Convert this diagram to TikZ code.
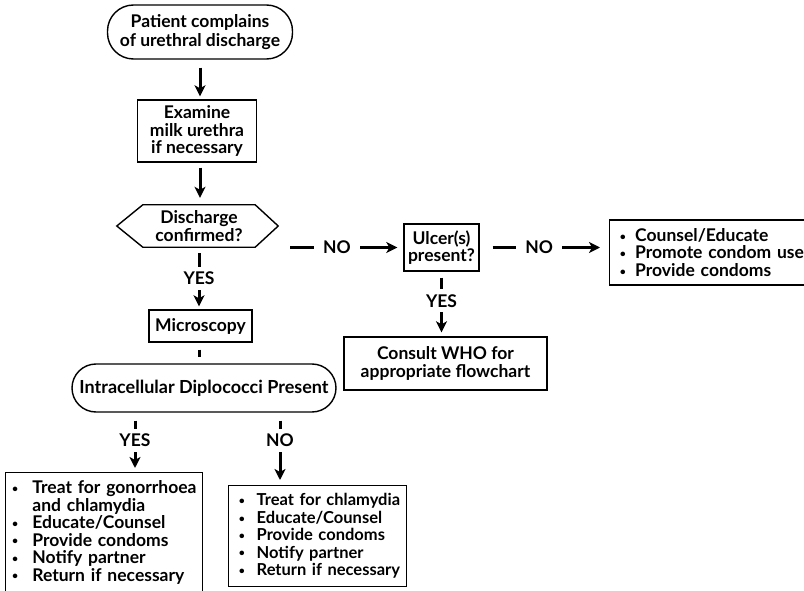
\documentclass[tikz,border=0pt]{standalone}
\usepackage{fontspec}
\usepackage{graphicx}
\setmainfont{Lato}
\usetikzlibrary{arrows.meta}

% bullet entry: small bullet at an offset, fixed-width bullet column, then the text
\newlength{\bulw}
\newlength{\bulo}
\newcommand{\dotmark}{\raisebox{1.3pt}{\fontsize{10.5}{10.5}\selectfont\textbullet}}
\newcommand{\bitem}[1]{\mbox{\makebox[\bulw][l]{\hspace*{\bulo}\dotmark}#1}}
\newcommand{\bcont}[1]{\mbox{\hspace*{\bulw}#1}}

\tikzset{
  txt/.style={font=\bfseries\fontsize{17.5}{17.5}\selectfont},
  box/.style={txt, draw, line width=1.4pt, align=center, inner sep=0pt},
  listbox/.style={txt, draw, line width=1.4pt, align=left, inner xsep=6pt, inner ysep=8pt},
  frame/.style={line width=1.4pt, line join=miter},
  link/.style={line width=3pt, -{Stealth[length=11pt,width=11pt,inset=3pt]}},
  bar/.style={line width=3pt},
  lbl/.style={txt, fill=white, inner xsep=9pt, inner ysep=5pt}
}

\begin{document}
\begin{tikzpicture}[x=1pt,y=-1pt]
\useasboundingbox (0,0) rectangle (804,591);
\clip (0,0) rectangle (804,591);

% main column
\node[box, font=\bfseries\fontsize{17.5}{19}\selectfont, rounded corners=26pt,
      minimum width=185pt, minimum height=54pt] (start) at (200,32)
  {Patient complains\\of urethral discharge};
\node[box, minimum width=119pt, minimum height=62pt] (exam) at (197,131)
  {Examine\\milk urethra\\if necessary};
\node[txt, align=center, inner sep=0pt, minimum width=112pt, minimum height=42pt] (hex) at (199,226)
  {Discharge\\confirmed?};
\draw[frame] (hex.north west) -- (hex.north east) -- ([xshift=23pt]hex.east)
  -- (hex.south east) -- (hex.south west) -- ([xshift=-26pt]hex.west) -- cycle;
\coordinate (hexR) at ([xshift=23pt]hex.east);
\node[box, minimum width=103pt, minimum height=32pt] (micro) at (200.5,326) {Microscopy};
\node[box, font=\bfseries\fontsize{18}{18}\selectfont, rounded corners=24pt,
      minimum width=264pt, minimum height=48pt] (idp) at (204,388)
  {Intracellular Diplococci Present};

% ulcer branch
\node[box, minimum width=75pt, minimum height=47pt] (ulcer) at (441.5,247.5) {Ulcer(s)\\present?};
\node[box, minimum width=203pt, minimum height=53pt] (consult) at (445.5,363.5)
  {Consult WHO for\\appropriate flowchart};
\setlength{\bulw}{19.5pt}\setlength{\bulo}{4.2pt}
\node[listbox, anchor=west, text width=200pt, minimum height=65pt] (counsel) at (609,252.5)
  {\bitem{Counsel/Educate}\\\bitem{Promote condom use}\\\bitem{Provide condoms}};

% treatment boxes
\setlength{\bulw}{20.7pt}\setlength{\bulo}{0.5pt}
\node[listbox, anchor=north west, text width=185pt] (leftbox) at (5,472)
  {\bitem{Treat for gonorrhoea}\\\bcont{and chlamydia}\\\bitem{Educate/Counsel}\\
   \bitem{Provide condoms}\\\bitem{Notify partner}\\\bitem{Return if necessary}\\\rule{0pt}{40pt}};
\setlength{\bulw}{22pt}\setlength{\bulo}{4.2pt}
\node[listbox, font=\bfseries\fontsize{16.5}{17.4}\selectfont, anchor=north west,
      text width=166pt, minimum height=95pt] (rightbox) at (228,485)
  {\bitem{Treat for chlamydia}\\\bitem{Educate/Counsel}\\\bitem{Provide condoms}\\
   \bitem{Notify partner}\\\bitem{Return if necessary}};

\coordinate (yx) at (135,0);
\coordinate (nx) at (280,0);

% connectors
\draw[link, shorten <=8pt, shorten >=3pt] (start.south) -- (exam.north -| start.south);
\draw[link, shorten <=5pt, shorten >=7pt] (exam.south -| start.south) -- (hex.north -| start.south);
\draw[link, shorten <=6pt, shorten >=3pt] (hex.south) -- node[lbl]{YES} (micro.north -| hex.south);
\draw[bar, shorten <=7pt, shorten >=6pt] (micro.south -| hex.south) -- (idp.north -| hex.south);
\draw[link, shorten <=12pt, shorten >=6pt] (ulcer.west -| hexR) -- node[lbl, pos=0.47]{NO} (ulcer.west);
\draw[link, shorten <=13pt, shorten >=9pt] (ulcer.east) -- node[lbl, pos=0.46]{NO} (ulcer.east -| counsel.west);
\draw[link, shorten <=6pt, shorten >=4pt] (ulcer.south) -- node[lbl, pos=0.45]{YES} (consult.north -| ulcer.south);
\draw[link, shorten <=8pt, shorten >=4pt] (idp.south -| yx) -- node[lbl, pos=0.47]{YES} (leftbox.north -| yx);
\draw[link, shorten <=8pt, shorten >=5pt] (idp.south -| nx) -- node[lbl, pos=0.38]{NO} (rightbox.north -| nx);
\end{tikzpicture}
\end{document}
